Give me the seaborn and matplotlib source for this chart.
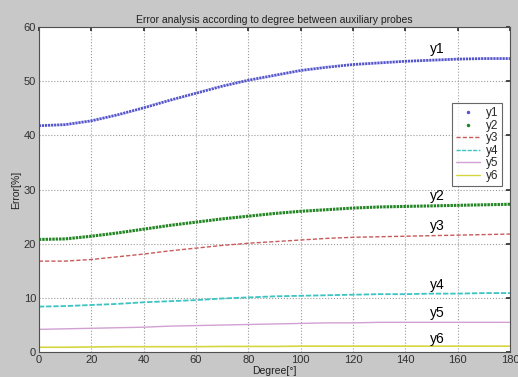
import matplotlib
matplotlib.use("Agg")
import matplotlib.pyplot as plt
from matplotlib.lines import Line2D
import seaborn as sns
import pandas as pd

# Angle between the auxiliary probes, in degrees
degree = [0, 10, 20, 30, 40, 50, 60, 70, 80, 90, 100, 110, 120, 130, 140, 150, 160, 170, 180]

# Error (%) for each configuration
y1 = [41.8, 42.0, 42.7, 43.8, 45.1, 46.5, 47.8, 49.1, 50.2, 51.1, 52.0, 52.6, 53.1, 53.4, 53.7, 53.9, 54.1, 54.2, 54.2]
y2 = [20.8, 20.9, 21.4, 22.0, 22.7, 23.4, 24.0, 24.6, 25.1, 25.6, 26.0, 26.3, 26.6, 26.8, 26.9, 27.0, 27.1, 27.2, 27.3]
y3 = [16.8, 16.8, 17.1, 17.6, 18.1, 18.7, 19.2, 19.7, 20.1, 20.4, 20.7, 21.0, 21.2, 21.3, 21.4, 21.5, 21.6, 21.7, 21.8]
y4 = [8.4, 8.5, 8.7, 8.9, 9.2, 9.4, 9.6, 9.9, 10.1, 10.3, 10.4, 10.5, 10.6, 10.7, 10.7, 10.8, 10.8, 10.9, 10.9]
y5 = [4.2, 4.3, 4.4, 4.5, 4.6, 4.8, 4.9, 5.0, 5.1, 5.2, 5.3, 5.4, 5.4, 5.5, 5.5, 5.5, 5.5, 5.5, 5.5]
y6 = [0.9, 0.9, 0.95, 1.0, 1.0, 1.0, 1.0, 1.05, 1.05, 1.05, 1.1, 1.1, 1.1, 1.1, 1.1, 1.1, 1.1, 1.1, 1.1]

series_names = ["y1", "y2", "y3", "y4", "y5", "y6"]
series_values = [y1, y2, y3, y4, y5, y6]

x_ticks = [0, 20, 40, 60, 80, 100, 120, 140, 160, 180]
y_ticks = [0, 10, 20, 30, 40, 50, 60]

sns.set_theme(style="white")
plt.rcParams["font.family"] = ["Liberation Sans", "DejaVu Sans"]

colors = {
    "y1": "#5656cc",
    "y2": "#238523",
    "y3": "#c85a5a",
    "y4": "#3cc4c4",
    "y5": "#d2a0d2",
    "y6": "#d6d640",
}
styles = {
    "y1": dict(lw=2.0, ls=(0, (0.8, 0.3))),
    "y2": dict(lw=2.2, ls=(0, (0.8, 0.3))),
    "y3": dict(lw=1.0, ls=(0, (3, 1.5))),
    "y4": dict(lw=1.3, ls=(0, (3, 1.0))),
    "y5": dict(lw=1.0, ls="-"),
    "y6": dict(lw=1.2, ls="-"),
}

df = pd.DataFrame({"degree": degree})
for name, vals in zip(series_names, series_values):
    df[name] = vals

fig = plt.figure(figsize=(5.18, 3.77), dpi=100, facecolor="#c8c8c8")
ax = fig.add_axes([0.075, 0.066, 0.910, 0.862])
ax.set_facecolor("white")

for name in series_names:
    sns.lineplot(data=df, x="degree", y=name, ax=ax, color=colors[name],
                 linewidth=styles[name]["lw"], linestyle=styles[name]["ls"],
                 legend=False)

# series labels along the right side of the curves
label_pos = {"y1": 56.0, "y2": 28.8, "y3": 23.2, "y4": 12.4, "y5": 7.2, "y6": 2.4}
for name in series_names:
    ax.text(152, label_pos[name], name, ha="center", va="center",
            fontsize=10, color="black")

ax.set_xlim(0, 180)
ax.set_ylim(0, 60)
ax.set_xticks(x_ticks)
ax.set_yticks(y_ticks)
ax.tick_params(direction="in", length=3, labelsize=8, colors="#303030",
               pad=2, top=True, right=True, labeltop=False, labelright=False)
ax.grid(True, color="#9a9a9a", linestyle=":", linewidth=0.8)
for sp in ax.spines.values():
    sp.set_color("#505050")
    sp.set_linewidth(0.8)

ax.set_title("Error analysis according to degree between auxiliary probes",
             fontsize=7.5, color="#202020", pad=3)
ax.set_xlabel("Degree[\u00b0]", fontsize=7.5, color="#202020", labelpad=1)
ax.set_ylabel("Error[%]", fontsize=7.5, color="#202020", labelpad=2)

handles = []
for name in series_names:
    if name in ("y1", "y2"):
        handles.append(Line2D([], [], color=colors[name], marker=".", ls="none",
                              markersize=3))
    else:
        handles.append(Line2D([], [], color=colors[name], lw=1.0,
                              ls=styles[name]["ls"]))
leg = ax.legend(handles, series_names, loc="upper right",
                bbox_to_anchor=(0.996, 0.785), fontsize=8.5, frameon=True,
                fancybox=False, edgecolor="#404040", handlelength=2.0,
                handletextpad=0.5, borderpad=0.35, labelspacing=0.05,
                markerfirst=True)
leg.get_frame().set_linewidth(0.8)

fig.savefig("out.png", dpi=100, facecolor=fig.get_facecolor())
